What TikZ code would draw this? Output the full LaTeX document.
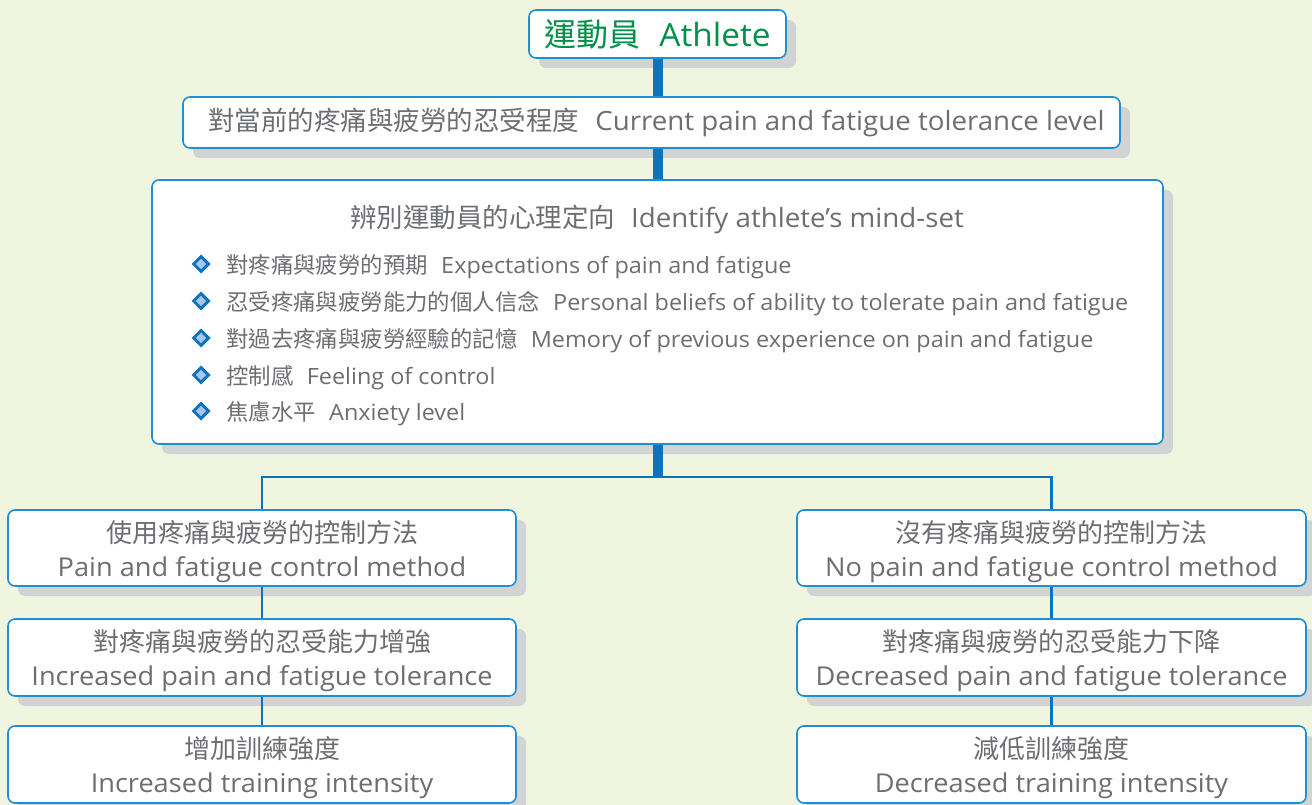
\documentclass[tikz,border=0pt]{standalone}
\usepackage{fontspec}
\setmainfont{Open Sans}[FakeStretch=1.045]
\newfontfamily\cjk{Noto Sans CJK TC}
\usetikzlibrary{shapes.geometric,shadows}
\definecolor{bg}{HTML}{F0F5DF}
\definecolor{boxblue}{HTML}{1E8FD5}
\definecolor{linkblue}{HTML}{0A75BE}
\definecolor{txtgray}{HTML}{6D6E71}
\definecolor{shadowgray}{HTML}{D1D3D4}
\definecolor{titlegreen}{HTML}{00904A}
\definecolor{bulletin}{HTML}{A9C6EA}
\newcommand{\gap}{\hspace{0.6em}}
\begin{document}
\begin{tikzpicture}[x=1pt,y=-1pt,
  box/.style={draw=boxblue, line width=1.6pt, fill=white, rounded corners=7pt,
    text=txtgray, align=center, inner sep=0pt,
    drop shadow={shadow xshift=10pt, shadow yshift=-10pt, fill=shadowgray, opacity=1}},
  thick link/.style={draw=linkblue, line width=10pt},
  thin link/.style={draw=linkblue, line width=2.6pt},
  bullet/.style={diamond, draw=linkblue, fill=bulletin, line width=3pt, minimum size=16pt, inner sep=0pt},
  item/.style={anchor=base west, text=txtgray, inner sep=0pt, font=\fontsize{22.4}{26}\selectfont},
  two/.style={font=\fontsize{26}{34}\selectfont, text depth=0pt}
]
\fill[bg] (0,0) rectangle (1312,805);
\useasboundingbox (0,0) rectangle (1312,805);

% boxes
\node[box, minimum width=257pt, minimum height=48pt, text=titlegreen,
  font=\fontsize{32}{36}\selectfont] (athlete) at (657.5,34) {{\cjk 運動員}\gap Athlete};
\node[box, minimum width=937pt, minimum height=51pt,
  font=\fontsize{26.5}{30}\selectfont] (tol) at (651.5,122.5)
  {\hspace{10pt}{\cjk 對當前的疼痛與疲勞的忍受程度}\gap Current pain and fatigue tolerance level};
\node[box, minimum width=1011pt, minimum height=264pt] (mind) at (657.5,312) {};
\node[text=txtgray, inner sep=0pt, anchor=base, font=\fontsize{26.5}{30}\selectfont] (mindt) at (657,228)
  {{\cjk 辨別運動員的心理定向}\gap Identify athlete’s mind-set};

\node[bullet] (b1) at (201,264) {};
\node[item] (t1) at (226,273) {{\cjk 對疼痛與疲勞的預期}\gap Expectations of pain and fatigue};
\node[bullet] (b2) at (201,301) {};
\node[item] (t2) at (226,310) {{\cjk 忍受疼痛與疲勞能力的個人信念}\gap Personal beliefs of ability to tolerate pain and fatigue};
\node[bullet] (b3) at (201,338) {};
\node[item] (t3) at (226,347) {{\cjk 對過去疼痛與疲勞經驗的記憶}\gap Memory of previous experience on pain and fatigue};
\node[bullet] (b4) at (201,375) {};
\node[item] (t4) at (226,384) {{\cjk 控制感}\gap Feeling of control};
\node[bullet] (b5) at (201,411) {};
\node[item] (t5) at (226,420) {{\cjk 焦慮水平}\gap Anxiety level};

\node[box, two, minimum width=508pt, minimum height=76pt] (la) at (262,548)
  {{\cjk 使用疼痛與疲勞的控制方法}\\Pain and fatigue control method};
\node[box, two, minimum width=508pt, minimum height=77pt] (lb) at (262,657.5)
  {{\cjk 對疼痛與疲勞的忍受能力增強}\\Increased pain and fatigue tolerance};
\node[box, two, minimum width=508pt, minimum height=77pt] (lc) at (262,764.5)
  {{\cjk 增加訓練強度}\\Increased training intensity};

\node[box, two, minimum width=509pt, minimum height=76pt] (ra) at (1051.5,548)
  {{\cjk 沒有疼痛與疲勞的控制方法}\\No pain and fatigue control method};
\node[box, two, minimum width=509pt, minimum height=77pt] (rb) at (1051.5,657.5)
  {{\cjk 對疼痛與疲勞的忍受能力下降}\\Decreased pain and fatigue tolerance};
\node[box, two, minimum width=509pt, minimum height=77pt] (rc) at (1051.5,764.5)
  {{\cjk 減低訓練強度}\\Decreased training intensity};

% connectors
\coordinate (j) at (657.5,477);
\coordinate (jl) at (262,477);
\coordinate (jr) at (1051.5,477);
\draw[thick link] (athlete.south) -- (athlete.south |- tol.north);
\draw[thick link] (athlete.south |- tol.south) -- (athlete.south |- mind.north);
\draw[thick link] (mind.south) -- (j);
\draw[thin link, line cap=rect] (jl) -- (jr);
\draw[thin link] (jl) -- (la.north);
\draw[thin link] (jr) -- (ra.north);
\draw[thin link] (la.south) -- (lb.north);
\draw[thin link] (lb.south) -- (lc.north);
\draw[thin link] (ra.south) -- (rb.north);
\draw[thin link] (rb.south) -- (rc.north);
\end{tikzpicture}
\end{document}
